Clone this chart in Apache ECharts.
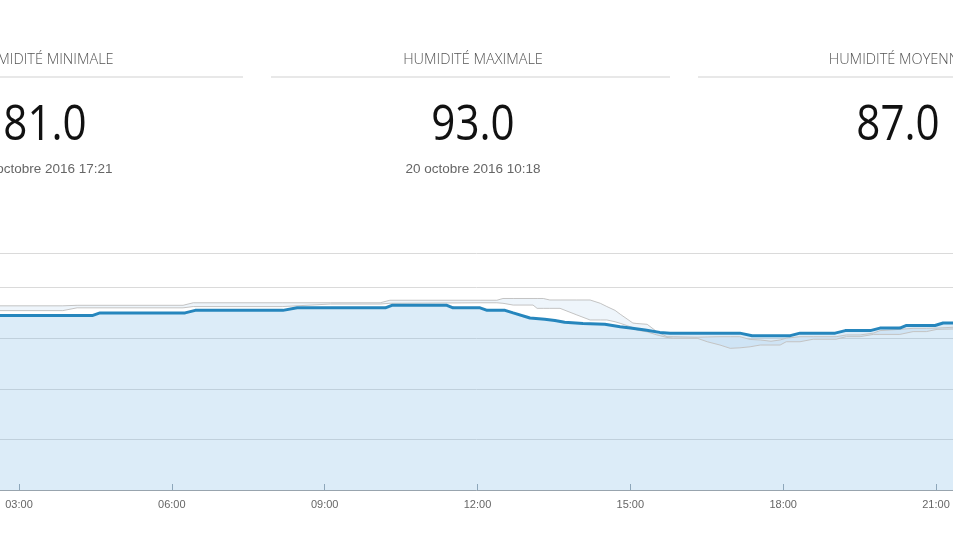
<!DOCTYPE html>
<html>
<head>
<meta charset="utf-8">
<script src="https://cdn.jsdelivr.net/npm/echarts@6/dist/echarts.min.js"></script>
<style>
html,body{margin:0;padding:0;background:#fff;}
#chart{width:953px;height:536px;}
</style>
</head>
<body>
<div id="chart"></div>
<script>
// ---- Stat panels ----
const statTitles = ['HUMIDITÉ MINIMALE', 'HUMIDITÉ MAXIMALE', 'HUMIDITÉ MOYENNE'];
const statValues = ['81.0', '93.0', '87.0'];
const statDates  = ['20 octobre 2016 17:21', '20 octobre 2016 10:18', ''];

// ---- X axis tick labels (hours) ----
const tickHours  = [3, 6, 9, 12, 15, 18, 21];
const tickLabels = ['03:00', '06:00', '09:00', '12:00', '15:00', '18:00', '21:00'];

// ---- Humidity of the day (hours, %) ----
const dayTimes = [2.5, 4.45, 4.59, 6.26, 6.46, 8.18, 8.46, 10.19, 10.32, 11.40, 11.52, 12.05,
  12.19, 12.54, 12.70, 13.03, 13.32, 13.52, 13.71, 14.07, 14.50, 14.80, 15.00, 15.29, 15.58, 15.78,
  17.15, 17.39, 18.14, 18.33, 19.02, 19.22, 19.71, 19.90, 20.29, 20.41, 20.98, 21.14, 21.5];
const dayValues = [89, 89, 90, 90, 91, 91, 92, 92, 93, 93, 92, 92,
  91, 91, 90, 88, 87.5, 87, 86.3, 85.8, 85.5, 84.5, 84, 83.2, 82.3, 82,
  82, 81, 81, 82, 82, 83, 83, 84, 84, 85, 85, 86, 86];

// ---- Comparison envelope (upper / lower grey lines) ----
const refTimes = [2.5, 3.86, 4.14, 6.22, 6.42, 8.18, 9.11, 10.09, 10.28, 12.05, 12.38, 12.50,
  12.70, 13.09, 13.17, 13.29, 13.42, 13.62, 13.95, 14.21, 14.41, 14.54, 14.70, 14.80, 15.05,
  15.13, 15.33, 15.52, 15.72, 15.84, 16.31, 16.51, 16.76, 16.96, 17.15, 17.35, 17.55, 17.76,
  17.94, 18.06, 18.33, 18.59, 19.04, 19.24, 19.51, 19.77, 19.90, 20.29, 20.55, 20.81, 21.02, 21.5];
const refHigh = [92.8, 92.8, 93, 93, 94, 94, 94, 94, 95, 95, 95, 95.7,
  95.7, 95.7, 95.7, 95.7, 95.1, 95.1, 95.1, 95.1, 93.8, 92.5, 91, 89.5, 86,
  85.8, 85.5, 82.6, 80.6, 80.6, 80.4, 80.5, 80.6, 80.6, 80.6, 79.5, 79.3, 78.8,
  79.3, 80, 80.6, 80.6, 80.6, 81.3, 81.3, 82, 83, 83.5, 83.9, 83.9, 84, 84.5];
const refLow = [90.9, 90.9, 92, 92, 92.5, 92.5, 93.5, 93.5, 93.8, 94, 94, 93.8,
  93.1, 93.1, 91.8, 91.8, 91.8, 91.8, 89.2, 87.2, 87.2, 87.2, 86.5, 85.9, 84.2,
  83.2, 82.5, 81.3, 80.3, 80, 80, 78.6, 77.3, 76, 76.2, 76.6, 77.3, 77.3,
  77.3, 78.6, 78.6, 79.6, 79.6, 80.6, 80.6, 81.5, 81.5, 81.5, 82.6, 82.6, 83.5, 83.7];

// ---- build series data ----
const dayData  = dayTimes.map((t, i) => [t, dayValues[i]]);
const highData = refTimes.map((t, i) => [t, refHigh[i]]);
const lowData  = refTimes.map((t, i) => [t, refLow[i]]);
// value first so that stacking happens on the y dimension
const bandBaseData = refTimes.map((t, i) => [refLow[i], t]);
const bandSpanData = refTimes.map((t, i) => [refHigh[i] - refLow[i], t]);

const chart = echarts.init(document.getElementById('chart'), null, {renderer: 'canvas'});

const PX_PER_H = 50.94;
const xMin = 3 - 19 / PX_PER_H;
const xMax = 21 + 17 / PX_PER_H;

const centers = [45, 473, 898];
const lineSpans = [[-157, 243], [271, 670], [698, 1098]];
const graphics = [];
centers.forEach((cx, i) => {
  graphics.push({type: 'text', x: cx, y: 60, silent: true,
    style: {text: statTitles[i], align: 'center', verticalAlign: 'middle',
      font: '300 14.5px "Open Sans"', fill: '#555'}});
  graphics.push({type: 'line', silent: true,
    shape: {x1: lineSpans[i][0], y1: 77, x2: lineSpans[i][1], y2: 77},
    style: {stroke: '#e8e8e8', lineWidth: 2}});
  graphics.push({type: 'text', x: cx, y: 126, scaleX: 0.86, silent: true,
    style: {text: statValues[i], align: 'center', verticalAlign: 'middle',
      font: '49px "Open Sans"', fill: '#111'}});
  if (statDates[i]) {
    graphics.push({type: 'text', x: cx, y: 169, silent: true,
      style: {text: statDates[i], align: 'center', verticalAlign: 'middle',
        font: '13.5px "Liberation Sans"', fill: '#666'}});
  }
});

chart.setOption({
  animation: false,
  backgroundColor: '#fff',
  grid: {left: 0, right: 0, top: 253, bottom: 46, containLabel: false},
  xAxis: {
    type: 'value', min: xMin, max: xMax,
    axisLine: {show: true, lineStyle: {color: '#98a4ae', width: 1}},
    axisTick: {show: true, inside: true, length: 6, customValues: tickHours,
      lineStyle: {color: '#98a4ae'}},
    axisLabel: {show: true, customValues: tickHours, margin: 9,
      color: '#666', fontSize: 11, fontFamily: '"Liberation Sans", Arial',
      formatter: v => tickLabels[tickHours.indexOf(Math.round(v))] || ''},
    splitLine: {show: false}
  },
  yAxis: {
    type: 'value', min: 20, max: 100 + (287.6 - 253) / 2.53, interval: 20,
    axisLine: {show: false}, axisTick: {show: false}, axisLabel: {show: false},
    splitLine: {show: true, lineStyle: {color: '#dadada', width: 1}}
  },
  series: [
    {name: 'bandBase', type: 'line', stack: 'band', data: bandBaseData, encode: {x: 1, y: 0},
      symbol: 'none', lineStyle: {opacity: 0}, silent: true, z: 1},
    {name: 'bandSpan', type: 'line', stack: 'band', data: bandSpanData, encode: {x: 1, y: 0},
      symbol: 'none', lineStyle: {opacity: 0}, areaStyle: {color: '#eef5fb', opacity: 1},
      silent: true, z: 1},
    {name: 'dayArea', type: 'line', data: dayData, symbol: 'none',
      lineStyle: {width: 0, opacity: 0},
      areaStyle: {color: 'rgba(108,175,224,0.34)', origin: 'start'}, silent: true, z: 2},
    {name: 'refHigh', type: 'line', data: highData, symbol: 'none',
      lineStyle: {color: '#c3c3c3', width: 1}, silent: true, z: 3},
    {name: 'refLow', type: 'line', data: lowData, symbol: 'none',
      lineStyle: {color: '#c3c3c3', width: 1}, silent: true, z: 3},
    {name: 'day', type: 'line', data: dayData, symbol: 'none',
      lineStyle: {color: '#2686bd', width: 3}, silent: true, z: 4}
  ],
  graphic: graphics
});
</script>
</body>
</html>
